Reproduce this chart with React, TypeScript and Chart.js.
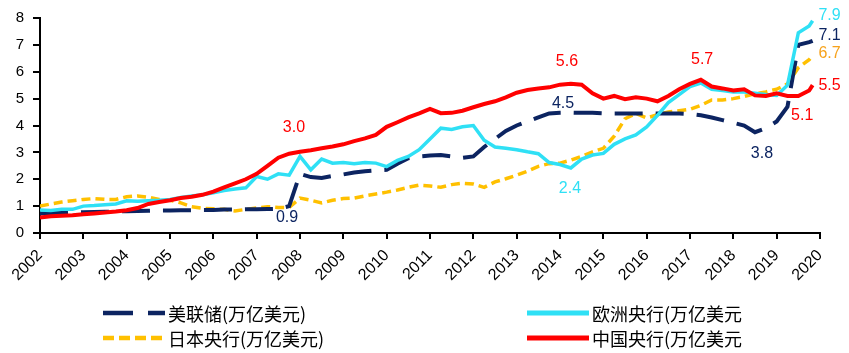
import React, { useEffect, useRef } from "react";
import { Chart, registerables } from "chart.js";

Chart.register(...registerables);

// Quarterly dates (decimal years)
const dates = [
  2002.0, 2002.25, 2002.5, 2002.75,
  2003.0, 2003.25, 2003.5, 2003.75,
  2004.0, 2004.25, 2004.5, 2004.75,
  2005.0, 2005.25, 2005.5, 2005.75,
  2006.0, 2006.25, 2006.5, 2006.75,
  2007.0, 2007.25, 2007.5, 2007.75,
  2008.0, 2008.25, 2008.5, 2008.75,
  2009.0, 2009.25, 2009.5, 2009.75,
  2010.0, 2010.25, 2010.5, 2010.75,
  2011.0, 2011.25, 2011.5, 2011.75,
  2012.0, 2012.25, 2012.5, 2012.75,
  2013.0, 2013.25, 2013.5, 2013.75,
  2014.0, 2014.25, 2014.5, 2014.75,
  2015.0, 2015.25, 2015.5, 2015.75,
  2016.0, 2016.25, 2016.5, 2016.75,
  2017.0, 2017.25, 2017.5, 2017.75,
  2018.0, 2018.25, 2018.5, 2018.75,
  2019.0, 2019.25, 2019.5, 2019.75,
  2019.83,
];

// 美联储 (万亿美元)
const fed = [
  0.73, 0.74, 0.75, 0.76,
  0.77, 0.78, 0.79, 0.8,
  0.81, 0.82, 0.83, 0.84,
  0.84, 0.85, 0.85, 0.86,
  0.86, 0.87, 0.87, 0.88,
  0.88, 0.89, 0.9, 1.0,
  2.2, 2.08, 2.05, 2.12,
  2.18, 2.25, 2.3, 2.33,
  2.35, 2.58, 2.78, 2.85,
  2.88, 2.9, 2.85, 2.8,
  2.85, 3.2, 3.5, 3.8,
  4.0, 4.15, 4.3, 4.45,
  4.47, 4.48, 4.47, 4.47,
  4.45, 4.45, 4.45, 4.45,
  4.45, 4.45, 4.45, 4.45,
  4.43, 4.38, 4.3, 4.2,
  4.1, 4.0, 3.75, 3.9,
  4.15, 4.7, 7.0, 7.1,
  7.15,
];

// 欧洲央行 (万亿美元)
const ecb = [
  0.86, 0.84, 0.88, 0.88,
  1.0, 1.02, 1.05, 1.08,
  1.2, 1.18, 1.2, 1.22,
  1.25, 1.32, 1.38, 1.42,
  1.5, 1.58, 1.64, 1.68,
  2.1, 2.0, 2.2, 2.15,
  2.85, 2.35, 2.75, 2.6,
  2.62, 2.58, 2.62, 2.6,
  2.47, 2.7, 2.85, 3.1,
  3.5, 3.9, 3.85, 3.95,
  4.0, 3.45, 3.2, 3.15,
  3.1, 3.02, 2.95, 2.62,
  2.55, 2.42, 2.75, 2.9,
  2.96, 3.3, 3.5, 3.65,
  3.95, 4.38, 4.85, 5.15,
  5.45, 5.58, 5.35, 5.3,
  5.25, 5.25, 5.2, 5.15,
  5.12, 5.5, 7.45, 7.7,
  7.9,
];

// 日本央行 (万亿美元)
const boj = [
  1.0, 1.08, 1.15, 1.2,
  1.25, 1.28, 1.25, 1.25,
  1.35, 1.38, 1.33, 1.25,
  1.22, 1.12, 0.98, 0.92,
  0.9, 0.88, 0.82, 0.88,
  0.93, 0.98, 0.95, 0.95,
  1.3, 1.22, 1.12, 1.22,
  1.28, 1.3, 1.38, 1.45,
  1.52, 1.6, 1.7, 1.78,
  1.75, 1.7, 1.8, 1.85,
  1.82, 1.7, 1.9, 2.02,
  2.15, 2.3, 2.48, 2.58,
  2.6, 2.71, 2.85, 3.02,
  3.15, 3.6, 4.25, 4.45,
  4.28, 4.4, 4.5, 4.55,
  4.6, 4.75, 4.95, 4.95,
  5.0, 5.08, 5.18, 5.25,
  5.35, 5.55, 6.15, 6.45,
  6.6,
];

// 中国央行 (万亿美元)
const pboc = [
  0.58, 0.62, 0.64, 0.66,
  0.7, 0.73, 0.76, 0.8,
  0.85, 0.93, 1.08, 1.15,
  1.22, 1.3, 1.35, 1.42,
  1.54, 1.7, 1.85, 2.0,
  2.2, 2.5, 2.8, 2.95,
  3.02, 3.08, 3.15, 3.22,
  3.3, 3.42, 3.52, 3.65,
  3.95, 4.12, 4.3, 4.45,
  4.62, 4.46, 4.47, 4.55,
  4.68, 4.8, 4.9, 5.05,
  5.22, 5.32, 5.38, 5.42,
  5.52, 5.55, 5.52, 5.2,
  5.0, 5.1, 4.98, 5.05,
  5.0, 4.9, 5.1, 5.35,
  5.55, 5.7, 5.45, 5.38,
  5.3, 5.35, 5.12, 5.1,
  5.2, 5.1, 5.1, 5.3,
  5.5,
];

const seriesNames = [
  "美联储(万亿美元)",
  "欧洲央行(万亿美元",
  "日本央行(万亿美元)",
  "中国央行(万亿美元",
];

const yearTicks = [2002, 2020];
const valueTicks = [0, 8];

// Value annotations: text, anchor (year, value)
const annotations = [
  { text: "3.0", year: 2007.86, value: 3.94, color: "#ff0000" },
  { text: "0.9", year: 2007.7, value: 0.57, color: "#0c2461" },
  { text: "4.5", year: 2014.07, value: 4.82, color: "#0c2461" },
  { text: "5.6", year: 2014.16, value: 6.38, color: "#ff0000" },
  { text: "2.4", year: 2014.23, value: 1.64, color: "#2fe0f5" },
  { text: "5.7", year: 2017.28, value: 6.45, color: "#ff0000" },
  { text: "3.8", year: 2018.66, value: 2.97, color: "#0c2461" },
  { text: "5.1", year: 2019.59, value: 4.38, color: "#ff0000" },
  { text: "7.9", year: 2020.22, value: 8.08, color: "#2fe0f5" },
  { text: "7.1", year: 2020.22, value: 7.35, color: "#0c2461" },
  { text: "6.7", year: 2020.22, value: 6.68, color: "#f7a21b" },
  { text: "5.5", year: 2020.22, value: 5.5, color: "#ff0000" },
];

const NAVY = "#0c2461";
const CYAN = "#2fe0f5";
const GOLD = "#ffc000";
const RED = "#ff0000";

const toPoints = (vals: number[]) => vals.map((v, i) => ({ x: dates[i], y: v }));

const overlayPlugin = {
  id: "overlay",
  afterDatasetsDraw(chart: any) {
    const ctx = chart.ctx as CanvasRenderingContext2D;
    const xs = chart.scales.x;
    const ys = chart.scales.y;
    ctx.save();
    ctx.font = '16px "Liberation Sans", Arial, sans-serif';
    ctx.textAlign = "center";
    ctx.textBaseline = "middle";
    for (const a of annotations) {
      ctx.fillStyle = a.color;
      ctx.fillText(a.text, xs.getPixelForValue(a.year), ys.getPixelForValue(a.value));
    }
    ctx.restore();
  },
  afterDraw(chart: any) {
    const ctx = chart.ctx as CanvasRenderingContext2D;
    ctx.save();
    const rows = [313, 338];
    const cols = [103, 527];
    const symW = 62;
    const items = [
      { name: seriesNames[0], color: NAVY, dash: [30, 15], col: 0, row: 0, w: 4.5 },
      { name: seriesNames[1], color: CYAN, dash: [], col: 1, row: 0, w: 5 },
      { name: seriesNames[2], color: GOLD, dash: [11, 5], col: 0, row: 1, w: 4.5 },
      { name: seriesNames[3], color: RED, dash: [], col: 1, row: 1, w: 5 },
    ];
    for (const it of items) {
      const x0 = cols[it.col];
      const y = rows[it.row];
      ctx.beginPath();
      ctx.setLineDash(it.dash);
      ctx.lineWidth = it.w;
      ctx.strokeStyle = it.color;
      ctx.lineCap = "butt";
      ctx.moveTo(x0, y);
      ctx.lineTo(x0 + symW, y);
      ctx.stroke();
      ctx.setLineDash([]);
      ctx.font = '18px "Noto Sans CJK SC", sans-serif';
      ctx.fillStyle = "#000";
      ctx.textAlign = "left";
      ctx.textBaseline = "middle";
      ctx.fillText(it.name, x0 + symW + 3, y + 1);
    }
    ctx.restore();
  },
};

export default function App() {
  const ref = useRef<HTMLCanvasElement | null>(null);
  useEffect(() => {
    if (!ref.current) return;
    const chart = new Chart(ref.current, {
      type: "line",
      data: {
        datasets: [
          {
            label: seriesNames[3],
            data: toPoints(pboc),
            borderColor: RED,
            borderWidth: 4,
            pointRadius: 0,
            tension: 0,
            order: 1,
          },
          {
            label: seriesNames[1],
            data: toPoints(ecb),
            borderColor: CYAN,
            borderWidth: 3.5,
            pointRadius: 0,
            tension: 0,
            order: 2,
          },
          {
            label: seriesNames[0],
            data: toPoints(fed),
            borderColor: NAVY,
            borderWidth: 4,
            borderDash: [28, 13],
            pointRadius: 0,
            tension: 0,
            order: 3,
          },
          {
            label: seriesNames[2],
            data: toPoints(boj),
            borderColor: GOLD,
            borderWidth: 3.5,
            borderDash: [9, 5],
            pointRadius: 0,
            tension: 0,
            order: 4,
          },
        ],
      },
      options: {
        animation: false,
        responsive: false,
        maintainAspectRatio: false,
        layout: { padding: { top: 17, right: 29, left: 0, bottom: 0 } },
        plugins: { legend: { display: false }, tooltip: { enabled: false } },
        scales: {
          x: {
            type: "linear",
            min: yearTicks[0],
            max: yearTicks[1],
            afterFit: (s: any) => {
              s.height = 120;
            },
            ticks: {
              stepSize: 1,
              autoSkip: false,
              minRotation: 45,
              maxRotation: 45,
              color: "#000",
              padding: 7,
              font: { family: '"Liberation Sans", Arial, sans-serif', size: 16 },
              callback: (v: any) => String(v),
            },
            grid: {
              display: true,
              drawOnChartArea: false,
              drawTicks: true,
              tickLength: 6,
              color: "#000",
              lineWidth: 2,
            },
            border: { display: true, color: "#000", width: 2 },
          },
          y: {
            type: "linear",
            min: valueTicks[0],
            max: valueTicks[1],
            afterFit: (s: any) => {
              s.width = 40;
            },
            ticks: {
              stepSize: 1,
              color: "#000",
              padding: 9,
              font: { family: '"Liberation Sans", Arial, sans-serif', size: 15 },
            },
            grid: {
              display: true,
              drawOnChartArea: false,
              drawTicks: true,
              tickLength: 7,
              color: "#000",
              lineWidth: 2,
            },
            border: { display: true, color: "#000", width: 2 },
          },
        },
      },
      plugins: [overlayPlugin],
    });
    return () => chart.destroy();
  }, []);
  return (
    <div style={{ position: "fixed", left: 0, top: 0, width: 849, height: 353, background: "#fff" }}>
      <canvas ref={ref} width={849} height={353} style={{ width: 849, height: 353 }} />
    </div>
  );
}
